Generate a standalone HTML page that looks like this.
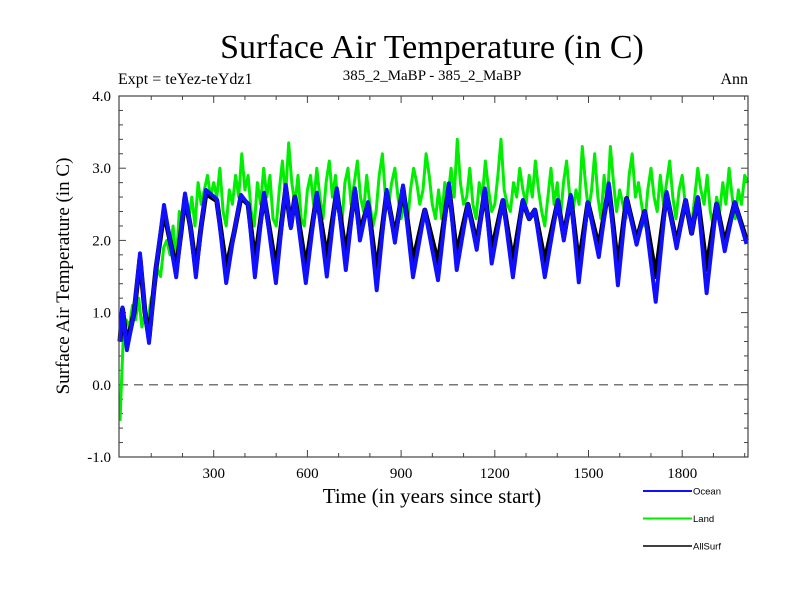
<!DOCTYPE html>
<html><head><meta charset="utf-8"><style>
body{margin:0;background:#fff}
svg{display:block;font-family:"Liberation Serif",serif}
</style></head><body>
<svg id="chart" width="800" height="600" viewBox="0 0 800 600">
<text x="432" y="58" font-size="34" text-anchor="middle">Surface Air Temperature (in C)</text>
<text x="118" y="84" font-size="16">Expt = teYez-teYdz1</text>
<text x="432" y="80" font-size="15" text-anchor="middle">385_2_MaBP - 385_2_MaBP</text>
<text x="748" y="84" font-size="16" text-anchor="end">Ann</text>
<text transform="translate(69,276) rotate(-90)" font-size="19" text-anchor="middle">Surface Air Temperature (in C)</text>
<text x="432" y="503" font-size="21" text-anchor="middle">Time (in years since start)</text>
<g id="ticks"></g>
<g id="series"></g>
<rect x="119" y="96" width="629" height="361" fill="none" stroke="#444" stroke-width="1.2"/>
<g>
<line x1="643" y1="491" x2="692" y2="491" stroke="#1010ff" stroke-width="2"/>
<text x="693" y="494.5" font-size="9.5" font-family="Liberation Sans,sans-serif">Ocean</text>
<line x1="643" y1="518.5" x2="692" y2="518.5" stroke="#00ee00" stroke-width="2"/>
<text x="693" y="522" font-size="9.5" font-family="Liberation Sans,sans-serif">Land</text>
<line x1="643" y1="546" x2="692" y2="546" stroke="#000" stroke-width="1.5"/>
<text x="693" y="549.5" font-size="9.5" font-family="Liberation Sans,sans-serif">AllSurf</text>
</g>
</svg>
<script>
const oceanYears=[0,8,22,45,64,80,93,115,141,160,180,195,208,225,243,260,275,310,340,365,387,410,432,461,499,531,547,560,595,630,662,694,723,752,768,794,822,854,880,906,938,976,1018,1053,1078,1114,1142,1168,1190,1226,1258,1290,1310,1328,1360,1402,1421,1443,1469,1498,1533,1565,1594,1622,1654,1680,1715,1750,1782,1811,1830,1850,1878,1910,1936,1968,2006];
const oceanVals=[0.6,1.07,0.48,1.0,1.82,1.0,0.58,1.6,2.49,2.0,1.49,2.1,2.65,2.2,1.49,2.2,2.7,2.57,1.41,2.1,2.63,2.5,1.49,2.66,1.41,2.77,2.17,2.6,1.41,2.66,1.5,2.72,1.59,2.72,2.0,2.53,1.31,2.7,1.97,2.76,1.49,2.42,1.45,2.79,1.59,2.5,1.87,2.72,1.68,2.56,1.49,2.56,2.3,2.42,1.49,2.56,2.0,2.63,1.42,2.53,1.77,2.79,1.38,2.58,1.94,2.4,1.15,2.67,1.89,2.56,2.1,2.6,1.27,2.51,1.85,2.53,1.95];
const allSurfVals=[0.6,1.05,0.55,1.0,1.75,1.0,0.65,1.6,2.4,2.0,1.6,2.1,2.6,2.2,1.6,2.2,2.65,2.55,1.6,2.1,2.6,2.5,1.7,2.62,1.6,2.72,2.2,2.6,1.62,2.62,1.75,2.68,1.8,2.68,2.1,2.5,1.55,2.66,2.05,2.72,1.7,2.42,1.68,2.74,1.8,2.5,1.95,2.68,1.85,2.55,1.7,2.54,2.3,2.42,1.7,2.54,2.05,2.6,1.65,2.52,1.9,2.74,1.62,2.58,2.0,2.4,1.5,2.64,1.95,2.55,2.1,2.58,1.6,2.5,1.95,2.52,2.0];
const landStart=0, landStep=10;
const landVals=[-0.5,0.6,0.9,0.8,1.1,0.9,1.2,0.8,1.0,0.9,1.2,
1.3,1.6,1.5,1.9,2.0,1.8,2.2,1.7,2.4,2.2,
2.5,2.3,2.6,2.2,2.8,2.5,2.7,2.9,2.6,2.8,
2.6,3.0,2.4,2.2,2.7,2.5,2.9,2.6,3.2,2.7,
2.9,2.4,2.2,2.8,2.5,3.0,2.6,2.9,2.3,2.2,
2.7,3.1,2.6,3.35,2.8,2.5,2.9,2.3,2.2,2.7,
2.9,2.5,3.0,2.6,2.3,2.8,3.1,2.6,2.9,2.4,
2.2,2.8,3.0,2.5,2.8,3.1,2.6,2.4,2.9,2.5,
2.2,2.4,2.9,3.2,2.6,2.5,2.8,3.0,2.6,2.3,
2.5,2.2,2.7,3.0,2.8,2.5,2.7,3.2,2.9,2.5,
2.3,2.7,2.3,2.8,2.6,3.0,2.6,3.4,2.8,2.5,
2.6,3.0,2.5,2.3,2.8,2.6,3.1,2.7,2.4,2.5,
2.9,3.4,2.7,2.5,2.4,2.8,2.6,3.0,2.7,2.5,
2.9,2.6,3.1,2.7,2.4,2.2,2.6,3.0,2.5,2.8,
2.3,2.8,3.1,2.6,2.4,2.7,2.5,3.3,2.8,2.4,
2.7,3.2,2.6,2.3,2.9,2.5,3.3,2.8,2.4,2.7,
2.5,2.3,2.9,3.2,2.6,2.8,2.5,2.2,2.7,3.0,
2.6,2.4,2.9,2.5,2.8,3.1,2.6,2.3,2.7,2.9,
2.5,2.4,2.2,2.6,3.0,2.7,2.5,2.9,2.4,2.2,
2.6,2.4,2.8,2.5,3.0,2.6,2.3,2.7,2.5,2.9,2.8];
const xTicks=[300,600,900,1200,1500,1800];
const yTicks=[-1,0,1,2,3,4];
const yTickLabels=["-1.0","0.0","1.0","2.0","3.0","4.0"];

const X0=120, XS=93.7/300, Y0=384.8, YS=72.2;
function xs(t){return X0+t*XS;}
function ys(v){return Y0-v*YS;}
const NS='http://www.w3.org/2000/svg';
const tg=document.getElementById('ticks'), sg=document.getElementById('series');
function mk(tag,attrs,parent){const e=document.createElementNS(NS,tag);for(const k in attrs)e.setAttribute(k,attrs[k]);parent.appendChild(e);return e;}
for(let t=100;t<=2000;t+=100){const x=xs(t);const big=t%300===0;
 const a=mk('line',{x1:x,y1:457,x2:x,y2:457-(big?7:4),stroke:'#444'},tg);
 
 
 const b=mk('line',{x1:x,y1:96,x2:x,y2:96+(big?7:4),stroke:'#444'},tg);
 
 }
for(let v=-1;v<=4.001;v+=0.2){const y=ys(v);const big=Math.abs(v-Math.round(v))<0.01;
 const a=mk('line',{x1:119,y1:y,x2:119+(big?7:4),y2:y,stroke:'#444'},tg);
 
 
 const b=mk('line',{x1:748,y1:y,x2:748-(big?7:4),y2:y,stroke:'#444'},tg);
 
 }
xTicks.forEach(t=>{const e=mk('text',{x:xs(t),y:478,'font-size':15,'text-anchor':'middle'},tg);e.textContent=t;
 
 });
yTicks.forEach((v,i)=>{const e=mk('text',{x:111,y:ys(v)+5,'font-size':15,'text-anchor':'end'},tg);e.textContent=yTickLabels[i];
 
 });
const zl=mk('line',{x1:119,y1:ys(0),x2:748,y2:ys(0),stroke:'#777','stroke-width':1.5,'stroke-dasharray':'9,6'},sg);


function path(xsArr,vals,color,w,name){
 const d=vals.map((v,i)=>(i?'L':'M')+xs(xsArr[i]).toFixed(1)+','+ys(v).toFixed(1)).join('');
 const p=mk('path',{d:d,fill:'none',stroke:color,'stroke-width':w,'stroke-linejoin':'round'},sg);
 
 }
const landYears=landVals.map((v,i)=>landStart+i*landStep);
path(landYears,landVals,'#00ee00',3,'land-line');
path(oceanYears,allSurfVals,'#000',5,'allsurf-line');
path(oceanYears,oceanVals,'#1010ff',4,'ocean-line');
</script>
</body></html>
